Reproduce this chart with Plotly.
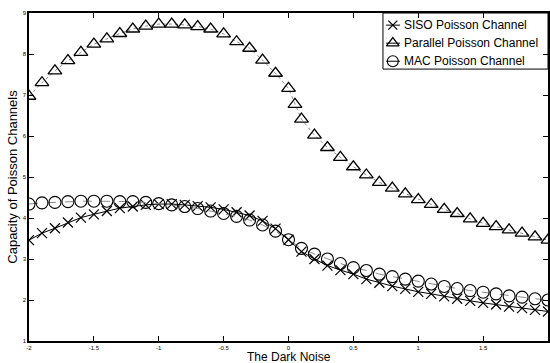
import plotly.graph_objects as go

# ---- data ----
x_common = [-2.0, -1.9, -1.8, -1.7, -1.6, -1.5, -1.4, -1.3, -1.2, -1.1, -1.0,
            -0.9, -0.8, -0.7, -0.6, -0.5, -0.4, -0.3, -0.2, -0.1, 0.0,
            0.1, 0.2, 0.3, 0.4, 0.5, 0.6, 0.7, 0.8, 0.9, 1.0,
            1.1, 1.2, 1.3, 1.4, 1.5, 1.6, 1.7, 1.8, 1.9, 2.0]

siso = [3.46, 3.63, 3.75, 3.89, 4.01, 4.09, 4.17, 4.24, 4.28, 4.32, 4.34,
        4.34, 4.32, 4.29, 4.26, 4.21, 4.14, 4.06, 3.93, 3.74, 3.47,
        3.18, 3.00, 2.84, 2.73, 2.63, 2.51, 2.42, 2.34, 2.27, 2.20,
        2.15, 2.09, 2.03, 1.98, 1.93, 1.89, 1.84, 1.80, 1.76, 1.72]

mac = [4.34, 4.37, 4.38, 4.40, 4.41, 4.41, 4.41, 4.40, 4.40, 4.38, 4.35,
       4.32, 4.28, 4.23, 4.17, 4.11, 4.04, 3.95, 3.83, 3.68, 3.47,
       3.26, 3.12, 3.00, 2.89, 2.79, 2.72, 2.63, 2.57, 2.51, 2.46,
       2.39, 2.33, 2.28, 2.23, 2.19, 2.15, 2.10, 2.07, 2.03, 2.00]

x_parallel = [-2.0, -1.9, -1.8, -1.7, -1.6, -1.5, -1.4, -1.3, -1.2, -1.1, -1.0,
              -0.9, -0.8, -0.7, -0.6, -0.5, -0.4, -0.3, -0.2, -0.1, 0.0, 0.05,
              0.1, 0.2, 0.3, 0.4, 0.5, 0.6, 0.7, 0.8, 0.9, 1.0,
              1.1, 1.2, 1.3, 1.4, 1.5, 1.6, 1.7, 1.8, 1.9, 2.0]
parallel = [6.97, 7.30, 7.59, 7.84, 8.04, 8.24, 8.37, 8.50, 8.61, 8.68, 8.73,
            8.73, 8.71, 8.67, 8.61, 8.49, 8.30, 8.14, 7.85, 7.53, 7.16, 6.77,
            6.41, 6.02, 5.72, 5.48, 5.25, 5.05, 4.87, 4.73, 4.59, 4.45,
            4.33, 4.21, 4.11, 3.98, 3.87, 3.79, 3.71, 3.63, 3.54, 3.46]

series_names = ["SISO Poisson Channel", "Parallel Poisson Channel", "MAC Poisson Channel"]
x_title = "The Dark Noise"
y_title = "Capacity of Poisson Channels"

x_ticks = [-2, -1.5, -1, -0.5, 0, 0.5, 1, 1.5, 2]
x_tick_labels = ["-2", "-1.5", "-1", "-0.5", "0", "0.5", "1", "1.5", "2"]
y_ticks = [1, 2, 3, 4, 5, 6, 7, 8, 9]
y_tick_labels = ["1", "2", "3", "4", "5", "6", "7", "8", "9"]

FONT = "Arial, Liberation Sans, sans-serif"

# styles for each series: (line, marker)
styles = [
    (dict(color="black", width=1),
     dict(symbol="x-thin-open", size=10, color="black", line=dict(color="black", width=1.2))),
    (dict(color="#8a8a8a", width=1, dash="dot"),
     dict(symbol="triangle-up-open", size=12, color="black", line=dict(color="black", width=1.3))),
    (dict(color="#8a8a8a", width=1, dash="dash"),
     dict(symbol="circle-open", size=12, color="black", line=dict(color="black", width=1.1))),
]

fig = go.Figure()
series = [(x_common, siso), (x_parallel, parallel), (x_common, mac)]
for (xs, ys), name, (ln, mk) in zip(series, series_names, styles):
    fig.add_trace(go.Scatter(x=xs, y=ys, mode="lines+markers", name=name,
                             line=ln, marker=mk, showlegend=False))

# ---- legend drawn as a boxed key in the top-right corner (paper fractions) ----
LEG_BOX = dict(x0=0.682, x1=1.0, y0=0.829, y1=1.0)
LEG_ROWS = [0.963, 0.908, 0.853]
LEG_SYM = (0.688, 0.701, 0.715)
LEG_TEXT_X = 0.719

fig.add_shape(type="rect", xref="paper", yref="paper", layer="below",
              line=dict(color="black", width=1), fillcolor="white", **LEG_BOX)
legend_marker_sizes = [9, 11, 11]
for row_y, name, (ln, mk), msz in zip(LEG_ROWS, series_names, styles, legend_marker_sizes):
    solid = dict(ln)
    solid.pop("dash", None)
    solid["color"] = "black"
    mk2 = dict(mk)
    mk2["size"] = msz
    fig.add_trace(go.Scatter(x=[LEG_SYM[0], LEG_SYM[2]], y=[row_y, row_y], mode="lines",
                             line=solid, xaxis="x2", yaxis="y2", showlegend=False,
                             hoverinfo="skip"))
    fig.add_trace(go.Scatter(x=[LEG_SYM[1]], y=[row_y], mode="markers", marker=mk2,
                             xaxis="x2", yaxis="y2", showlegend=False, hoverinfo="skip"))
    fig.add_annotation(text=name, xref="paper", yref="paper", x=LEG_TEXT_X, y=row_y,
                       xanchor="left", yanchor="middle", showarrow=False,
                       font=dict(family=FONT, size=12, color="black"))

# x axis title placed just under the tiny tick labels
fig.add_annotation(text=x_title, xref="paper", yref="paper", x=0.5, y=0,
                   xanchor="center", yanchor="top", yshift=-8, showarrow=False,
                   borderpad=0, font=dict(family=FONT, size=12, color="black"))

axis_common = dict(
    showline=True, linecolor="black", linewidth=1.5, mirror="ticks",
    ticks="inside", ticklen=5, tickwidth=1, tickcolor="black",
    showgrid=False, zeroline=False,
    tickfont=dict(family=FONT, size=6, color="black"),
)

fig.update_layout(
    width=550, height=363,
    margin=dict(l=29, r=2, t=13, b=22),
    paper_bgcolor="white", plot_bgcolor="white",
    font=dict(family=FONT, color="black"),
    xaxis=dict(range=[-2, 2], tickvals=x_ticks, ticktext=x_tick_labels, ticklabelstandoff=0,
               automargin=False, **axis_common),
    yaxis=dict(range=[1, 9], tickvals=y_ticks, ticktext=y_tick_labels,
               title=dict(text=y_title, font=dict(family=FONT, size=13), standoff=2),
               automargin=False, **axis_common),
    xaxis2=dict(range=[0, 1], overlaying="x", visible=False, fixedrange=True),
    yaxis2=dict(range=[0, 1], overlaying="y", visible=False, fixedrange=True),
    showlegend=False,
)

fig.write_html("out.html", config={"displayModeBar": False},
               post_script="document.body.style.margin='0';document.body.style.padding='0';")
